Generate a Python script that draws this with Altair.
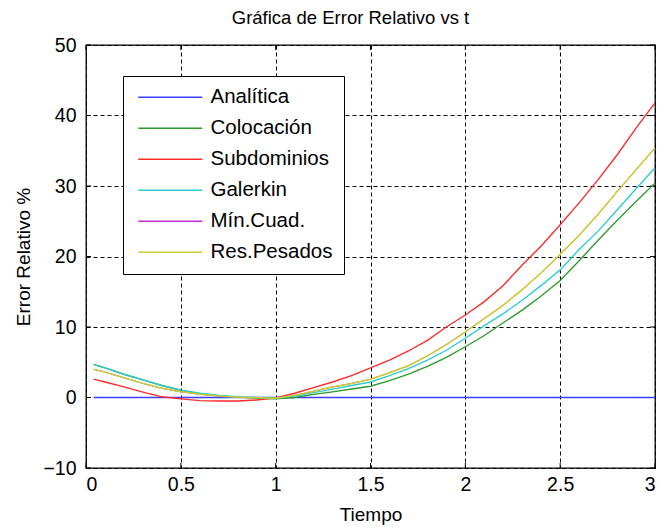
import altair as alt
import pandas as pd

t = [0.04, 0.1, 0.2, 0.3, 0.4, 0.5, 0.6, 0.7, 0.8, 0.9, 1.0,
     1.1, 1.2, 1.3, 1.4, 1.5, 1.6, 1.7, 1.8, 1.9, 2.0,
     2.1, 2.2, 2.3, 2.4, 2.5, 2.6, 2.7, 2.8, 2.9, 3.0]

analitica = [0.0] * 31
colocacion = [4.7, 4.2, 3.3, 2.5, 1.7, 1.0, 0.55, 0.25, 0.05, -0.1, -0.2,
              0.0, 0.45, 0.8, 1.2, 1.6, 2.4, 3.3, 4.4, 5.7, 7.2,
              8.8, 10.6, 12.4, 14.4, 16.6, 19.4, 22.3, 25.1, 27.8, 30.4]
subdominios = [2.6, 2.2, 1.5, 0.75, 0.1, -0.2, -0.45, -0.5, -0.5, -0.35, -0.05,
               0.6, 1.4, 2.2, 3.1, 4.2, 5.3, 6.6, 8.1, 10.0, 11.7,
               13.6, 15.9, 18.8, 21.5, 24.5, 27.6, 30.9, 34.4, 38.2, 41.8]
galerkin = [4.7, 4.2, 3.3, 2.5, 1.7, 1.05, 0.6, 0.3, 0.1, 0.0, -0.1,
            0.2, 0.7, 1.2, 1.7, 2.2, 3.1, 4.1, 5.3, 6.7, 8.4,
            10.2, 11.9, 13.8, 15.9, 18.1, 21.0, 23.6, 26.6, 29.6, 32.6]
res_pesados = [4.0, 3.6, 2.8, 2.0, 1.3, 0.8, 0.45, 0.2, 0.05, -0.05, -0.1,
               0.3, 0.9, 1.5, 2.0, 2.6, 3.5, 4.5, 5.9, 7.5, 9.3,
               11.2, 13.1, 15.3, 17.7, 20.3, 23.0, 26.0, 29.2, 32.3, 35.4]
min_cuad = list(res_pesados)

series = ["Analítica", "Colocación", "Subdominios", "Galerkin", "Mín.Cuad.", "Res.Pesados"]
colors = ["#3C3CFF", "#2E9A2E", "#FF2A2A", "#2ECCCC", "#C62ECF", "#CCCC33"]
values = [analitica, colocacion, subdominios, galerkin, min_cuad, res_pesados]
draw_order = ["Mín.Cuad.", "Analítica", "Colocación", "Subdominios", "Galerkin", "Res.Pesados"]
widths = {"Mín.Cuad.": 1.0, "Res.Pesados": 1.5, "Analítica": 1.6}

x_ticks = [0, 0.5, 1, 1.5, 2, 2.5, 3]
y_ticks = [-10, 0, 10, 20, 30, 40, 50]

rows = []
for name, vals in zip(series, values):
    for ti, v in zip(t, vals):
        rows.append({"t": ti, "err": v, "serie": name})
df = pd.DataFrame(rows)

W, H = 569, 423
FONT = "Liberation Sans"

xscale = alt.Scale(domain=[0, 3], nice=False, zero=False)
yscale = alt.Scale(domain=[-10, 50], nice=False, zero=False)
cscale = alt.Scale(domain=series, range=colors)

layers = []
for name in draw_order:
    layers.append(
        alt.Chart(df).transform_filter(alt.datum.serie == name)
        .mark_line(strokeWidth=widths.get(name, 1.35), clip=True)
        .encode(
            x=alt.X("t:Q", scale=xscale,
                    axis=alt.Axis(values=x_ticks, title="Tiempo", format="~g")),
            y=alt.Y("err:Q", scale=yscale,
                    axis=alt.Axis(values=y_ticks, title="Error Relativo %", format="~g",
                                  gridOpacity=alt.condition(alt.datum.value == 0,
                                                            alt.value(0), alt.value(1)))),
            color=alt.Color("serie:N", scale=cscale, title=None,
                            legend=alt.Legend(values=series)),
        )
    )

xt = pd.DataFrame({"xv": x_ticks})
yt = pd.DataFrame({"yv": y_ticks})
tick_b = alt.Chart(xt).mark_rule(color="black", strokeWidth=1).encode(
    x=alt.X("xv:Q", scale=xscale), y=alt.value(H), y2=alt.value(H - 5))
tick_t = alt.Chart(xt).mark_rule(color="black", strokeWidth=1).encode(
    x=alt.X("xv:Q", scale=xscale), y=alt.value(0), y2=alt.value(5))
tick_l = alt.Chart(yt).mark_rule(color="black", strokeWidth=1).encode(
    y=alt.Y("yv:Q", scale=yscale), x=alt.value(0), x2=alt.value(5))
tick_r = alt.Chart(yt).mark_rule(color="black", strokeWidth=1).encode(
    y=alt.Y("yv:Q", scale=yscale), x=alt.value(W), x2=alt.value(W - 5))

chart = alt.layer(tick_b, tick_t, tick_l, tick_r, *layers).properties(
    width=W, height=H,
    background="white",
    title=alt.TitleParams("Gráfica de Error Relativo vs t", fontSize=18.5,
                          fontWeight="normal", font=FONT, color="black",
                          anchor="middle", offset=8, dx=-20),
    autosize=alt.AutoSizeParams(type="none"),
    padding={"left": 86, "top": 45, "right": 5, "bottom": 59},
).configure_view(
    stroke="black", strokeWidth=1.3
).configure_axis(
    domain=False, ticks=False, grid=True, gridColor="black", gridDash=[4, 3],
    gridWidth=1, zindex=0,
    labelFont=FONT, labelFontSize=19.5, labelColor="black",
    titleFont=FONT, titleFontSize=19, titleFontWeight="normal", titleColor="black",
).configure_axisX(
    labelPadding=7, titlePadding=12, gridOpacity=1
).configure_axisY(
    labelPadding=10, titlePadding=9
).configure_legend(
    orient="none", legendX=37, legendY=31, padding=11, rowPadding=10,
    strokeColor="black", fillColor="white",
    symbolType="M-0.667,0H6.444", symbolSize=324, symbolStrokeWidth=1.6,
    labelOffset=56, labelFont=FONT, labelFontSize=20.5, labelColor="black",
    labelLimit=400,
)

chart.save("out.html", embed_options={"renderer": "svg", "actions": False})
